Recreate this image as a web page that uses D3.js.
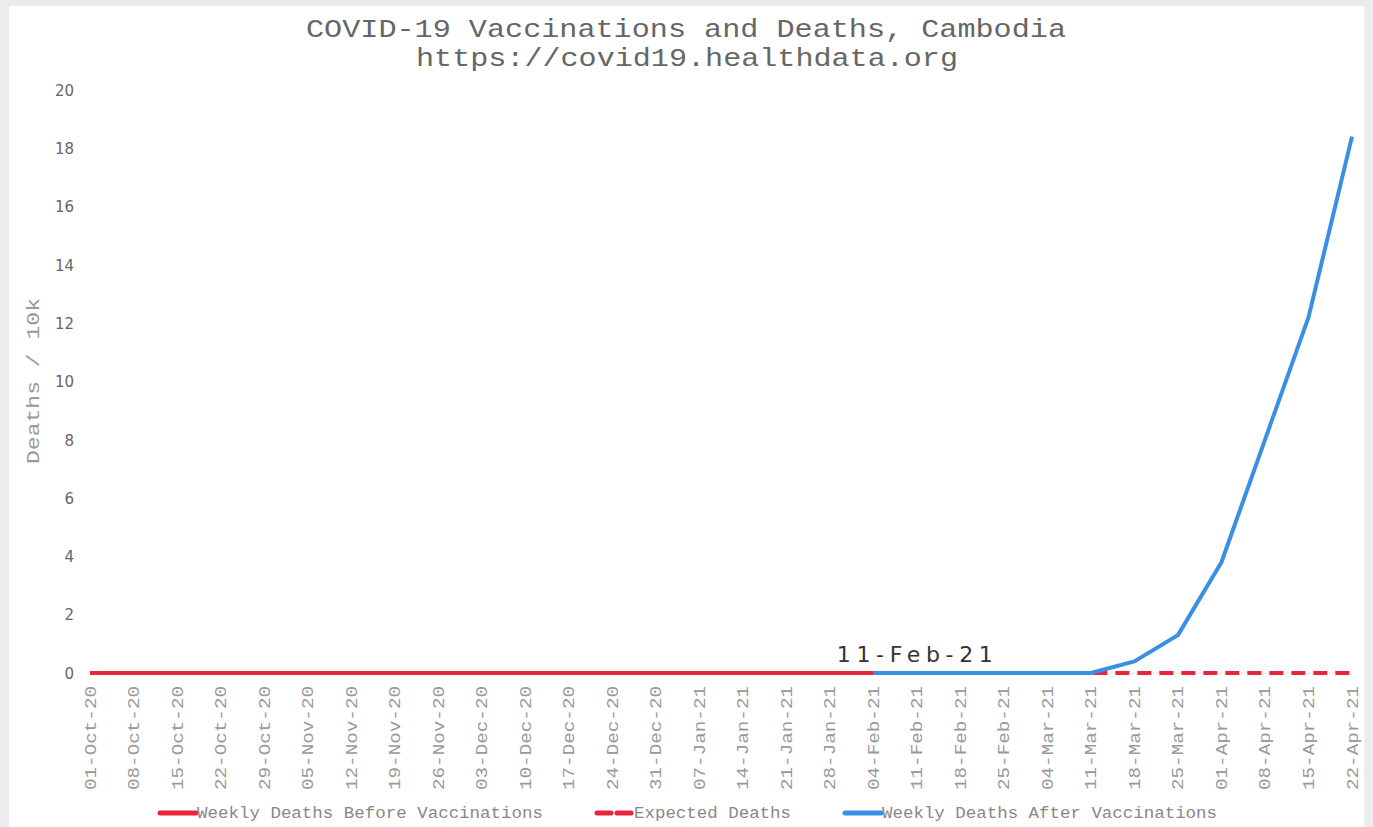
<!DOCTYPE html>
<html><head><meta charset="utf-8">
<script src="https://cdn.jsdelivr.net/npm/d3@7"></script>
<style>
html,body{margin:0;padding:0;background:#ececee;}
svg{display:block;}
</style></head>
<body>
<svg id="chart" width="1373" height="827"></svg>
<script>
const weeks = ["01-Oct-20","08-Oct-20","15-Oct-20","22-Oct-20","29-Oct-20","05-Nov-20","12-Nov-20","19-Nov-20","26-Nov-20","03-Dec-20","10-Dec-20","17-Dec-20","24-Dec-20","31-Dec-20","07-Jan-21","14-Jan-21","21-Jan-21","28-Jan-21","04-Feb-21","11-Feb-21","18-Feb-21","25-Feb-21","04-Mar-21","11-Mar-21","18-Mar-21","25-Mar-21","01-Apr-21","08-Apr-21","15-Apr-21","22-Apr-21"];
const beforeVacc = [0,0,0,0,0,0,0,0,0,0,0,0,0,0,0,0,0,0,0,null,null,null,null,null,null,null,null,null,null,null];
const expectedDeaths = [null,null,null,null,null,null,null,null,null,null,null,null,null,null,null,null,null,null,0,0,0,0,0,0,0,0,0,0,0,0];
const afterVacc = [null,null,null,null,null,null,null,null,null,null,null,null,null,null,null,null,null,null,0,0,0,0,0,0,0.4,1.3,3.8,8.0,12.2,18.4];
const yTicks = [0,2,4,6,8,10,12,14,16,18,20];
const vaccLabel = "11-Feb-21";
const titleLines = ["COVID-19 Vaccinations and Deaths, Cambodia","https://covid19.healthdata.org"];
const legendItems = ["Weekly Deaths Before Vaccinations","Expected Deaths","Weekly Deaths After Vaccinations"];

const svg = d3.select("#chart");
svg.append("rect").attr("x",9).attr("y",6).attr("width",1355).attr("height",821).attr("fill","#fff");

const x = d3.scalePoint().domain(weeks).range([90,1352]);
const y = d3.scaleLinear().domain([0,20]).range([673,90]);

// titles
const mono = "'Liberation Mono','DejaVu Sans Mono',monospace";
svg.append("text").attr("x",686).attr("y",37).attr("text-anchor","middle")
  .attr("font-family",mono).attr("font-size",25).attr("fill","#666")
  .attr("textLength",760).attr("lengthAdjust","spacingAndGlyphs").text(titleLines[0]);
svg.append("text").attr("x",687).attr("y",66).attr("text-anchor","middle")
  .attr("font-family",mono).attr("font-size",25).attr("fill","#666")
  .attr("textLength",542).attr("lengthAdjust","spacingAndGlyphs").text(titleLines[1]);

// y axis
const yAxis = svg.append("g").attr("transform","translate(74,0)")
  .call(d3.axisLeft(y).tickValues(yTicks).tickSize(0).tickPadding(0));
yAxis.select(".domain").remove();
yAxis.selectAll("text").attr("font-family","'DejaVu Sans',sans-serif").attr("font-size",15)
  .attr("fill","#666").attr("dy","0.35em");

svg.append("text").attr("transform","translate(39,381) rotate(-90)").attr("text-anchor","middle")
  .attr("font-family",mono).attr("font-size",18).attr("fill","#999")
  .attr("textLength",166).attr("lengthAdjust","spacingAndGlyphs").text("Deaths / 10k");

// x axis baseline
svg.append("line").attr("x1",90).attr("x2",1352).attr("y1",y(0)).attr("y2",y(0)).attr("stroke","#e4e4e4").attr("stroke-width",1);

const xAxis = svg.append("g").attr("transform",`translate(0,${y(0)})`)
  .call(d3.axisBottom(x).tickSize(0).tickPadding(0));
xAxis.select(".domain").remove();
xAxis.selectAll("text")
  .attr("font-family",mono).attr("font-size",16).attr("fill","#999")
  .attr("text-anchor","end").attr("dy",null).attr("y",0).attr("x",0)
  .attr("transform","translate(5,13) rotate(-90)")
  .attr("textLength",104).attr("lengthAdjust","spacingAndGlyphs");

// lines
const lineGen = d3.line().defined(d=>d.v!==null).x(d=>x(d.w)).y(d=>y(d.v));
const toPts = arr => weeks.map((w,i)=>({w, v:arr[i]}));
const red = "#e8253b", blue = "#3a8ee6";

svg.append("path").datum(toPts(expectedDeaths)).attr("d",lineGen)
  .attr("fill","none").attr("stroke",red).attr("stroke-width",4).attr("stroke-dasharray","14,8");
svg.append("path").datum(toPts(afterVacc)).attr("d",lineGen)
  .attr("fill","none").attr("stroke",blue).attr("stroke-width",4).attr("stroke-linejoin","round");
svg.append("path").datum(toPts(beforeVacc)).attr("d",lineGen)
  .attr("fill","none").attr("stroke",red).attr("stroke-width",4);

// annotation
svg.append("text").attr("x",x(vaccLabel)-2).attr("y",662).attr("text-anchor","middle")
  .attr("font-family","'DejaVu Sans',sans-serif").attr("font-size",22).attr("fill","#333")
  .attr("textLength",156).attr("lengthAdjust","spacing").text(vaccLabel);

// legend
const legend = [
  {label:legendItems[0], color:red, dash:null, x:160, tl:346},
  {label:legendItems[1], color:red, dash:"14,6", x:597, tl:157},
  {label:legendItems[2], color:blue, dash:null, x:845, tl:335}
];
const lg = svg.append("g");
legend.forEach(d=>{
  lg.append("line").attr("x1",d.x).attr("x2",d.x+36).attr("y1",813).attr("y2",813)
    .attr("stroke",d.color).attr("stroke-width",5).attr("stroke-linecap","round")
    .attr("stroke-dasharray",d.dash);
  lg.append("text").attr("x",d.x+37).attr("y",818).attr("font-family",mono).attr("font-size",16)
    .attr("fill","#888").attr("textLength",d.tl).attr("lengthAdjust","spacingAndGlyphs").text(d.label);
});
</script>
</body></html>
